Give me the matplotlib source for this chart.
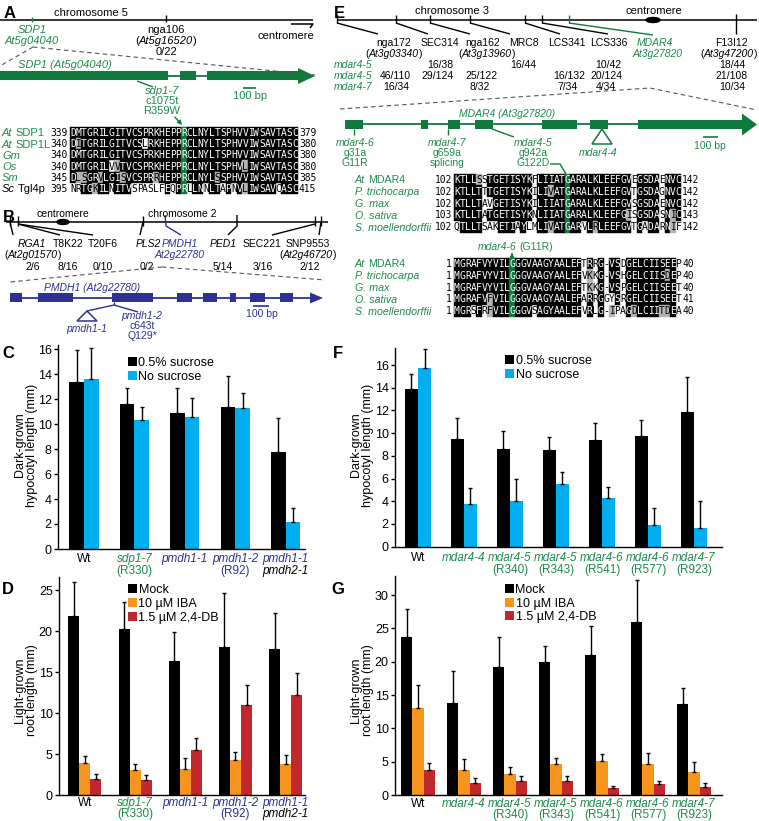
import matplotlib
matplotlib.use('Agg')
import matplotlib.pyplot as plt
import numpy as np
from collections import Counter
from matplotlib.patches import Rectangle, Polygon, Ellipse
from matplotlib.transforms import ScaledTranslation

plt.rcParams['font.family'] = ['Liberation Sans', 'DejaVu Sans']

# ---------------- data ----------------
# Panel C: dark-grown hypocotyl length (mm)
c_line1 = ['Wt', 'sdp1-7', 'pmdh1-1', 'pmdh1-2', 'pmdh1-1']
c_line2 = ['', '(R330)', '', '(R92)', 'pmdh2-1']
c_suc = [13.35, 11.6, 10.9, 11.4, 7.8]
c_suc_err = [2.55, 1.25, 2.0, 2.45, 2.7]
c_nosuc = [13.6, 10.35, 10.55, 11.3, 2.2]
c_nosuc_err = [2.45, 1.05, 1.5, 1.15, 1.05]

# Panel D: light-grown root length (mm)
d_mock = [21.9, 20.3, 16.4, 18.0, 17.8]
d_mock_err = [4.1, 3.3, 3.5, 6.7, 4.4]
d_iba = [3.95, 3.0, 3.2, 4.3, 3.8]
d_iba_err = [0.75, 0.75, 1.3, 1.0, 1.05]
d_db = [1.95, 1.85, 5.5, 10.95, 12.25]
d_db_err = [0.6, 0.65, 1.5, 2.45, 2.6]

# Panel F
f_line1 = ['Wt', 'mdar4-4', 'mdar4-5', 'mdar4-5', 'mdar4-6', 'mdar4-6', 'mdar4-7']
f_line2 = ['', '', '(R340)', '(R343)', '(R541)', '(R577)', '(R923)']
f_suc = [13.9, 9.45, 8.6, 8.5, 9.4, 9.75, 11.85]
f_suc_err = [1.3, 1.85, 1.6, 1.15, 1.5, 1.4, 3.1]
f_nosuc = [15.7, 3.75, 4.05, 5.5, 4.25, 1.9, 1.65]
f_nosuc_err = [1.7, 1.4, 1.95, 1.05, 1.0, 1.5, 2.35]

# Panel G
g_mock = [23.75, 13.75, 19.25, 20.0, 20.95, 25.9, 13.6]
g_mock_err = [4.15, 4.9, 4.5, 2.4, 4.4, 6.35, 2.4]
g_iba = [13.1, 3.75, 3.15, 4.6, 5.15, 4.65, 3.5]
g_iba_err = [3.4, 1.6, 1.1, 1.0, 1.0, 1.6, 1.4]
g_db = [3.75, 1.75, 2.05, 2.15, 1.0, 1.6, 1.25]
g_db_err = [1.0, 0.75, 0.85, 0.75, 0.35, 0.55, 0.5]

# alignments
a_names = [('At', ' SDP1'), ('At', ' SDP1L'), ('Gm', ''), ('Os', ''), ('Sm', ''), ('Sc', ' Tgl4p')]
a_start = [339, 340, 340, 340, 345, 395]
a_end = [379, 380, 380, 380, 385, 415]
a_seqs = ['DMTGRILGITVCSPRKHEPPRCLNYLTSPHVVIWSAVTASC',
          'DITGRILGITVCSLRKHEPPRCLNYLTSPHVVIWSAVTASC',
          'DMTGRILGITVCSPRKHEPPRCLNYLTSPHVVIWSAVTASC',
          'DMTGRILVVTVCSPRKHEPPRCLNYLTSPHVLIWSAVTASC',
          'DLSGRVLGISVCSPRRHEPPRCLNYLSSPHVVIWSAVTASC',
          'NRTGKILNITVSPASLFEQPRLLNNLTAPNVLIWSAVCASC']
e_names = ['At MDAR4', 'P. trichocarpa', 'G. max', 'O. sativa', 'S. moellendorffii']
e1_start = [102, 102, 102, 103, 102]
e1_end = [142, 142, 142, 143, 142]
e1_seqs = ['KTLLSSTGETISYKFLIIATGARALKLEEFGVEGSDAENVC',
           'KTLLTTTGETISYKILIVATGARALKLEEFGVTGSDAGNVC',
           'KTLLTAVGETISYKILIIATGARALKLEEFGVSGSDAENVC',
           'KTLLTATGETISYKNLIIATGARALKLEEFGISGSDASNIC',
           'QTLLTSAKETIAYLMLIVATGARVLRLEEFGVTGADARNIF']
e2_start = [1, 1, 1, 1, 1]
e2_end = [40, 40, 40, 41, 40]
e2_seqs = ['MGRAFVYVILGGGVAAGYAALEFTRRG-VSDGELCIISEEP',
           'MGRAFVYVILGGGVAAGYAALEFVKKG-VSHGELCIISDEP',
           'MGRAFVYVILGGGVAAGYAALEFTKKG-VSPGELCIISEET',
           'MGRAFVFVILGGGVAAGYAALEFARRGGYSRGELCIISEET',
           'MGRSFRFVILGGGVSAGYAALEFVRLG-IPAGDLCIITDEA']

# ---------------- styling ----------------
W, H = 759, 821
fig = plt.figure(figsize=(W / 100, H / 100), dpi=100)
K = '#000000'
GREEN = '#1f8a4c'
GENE_G = '#107a3d'
NAVY = '#2e3192'
BLUE = '#00aeef'
ORANGE = '#f7941d'
RED = '#c1272d'
GRAY = '#555555'
XFS = 8.5


def add_ax(l, r, t, b):
    return fig.add_axes([l / W, 1 - b / H, (r - l) / W, (b - t) / H])


def style_ax(ax, xlim, ylim, yticks):
    ax.set_xlim(*xlim)
    ax.set_ylim(*ylim)
    ax.spines[['top', 'right']].set_visible(False)
    for s in ['left', 'bottom']:
        ax.spines[s].set_linewidth(1.0)
    ax.set_yticks(yticks)
    ax.tick_params(axis='y', direction='out', length=3, width=1, labelsize=9, pad=1.5)
    ax.set_xticks([])
    ax.patch.set_visible(False)


def draw_bars(ax, series, errs, colors, width):
    n = len(series)
    x = np.arange(len(series[0]))
    offs = (np.arange(n) - (n - 1) / 2) * width
    for s, e, c, o in zip(series, errs, colors, offs):
        ax.bar(x + o, s, width, color=c, linewidth=0)
        ax.errorbar(x + o, s, yerr=[np.zeros(len(e)), e], fmt='none', ecolor='k',
                    elinewidth=1, capsize=1.5, capthick=1)


def xlabels(ax, line1, line2, styles1, styles2, dy1, dy2, fs=XFS):
    for i, (s1, s2) in enumerate(zip(line1, line2)):
        for s, (c, st), dy in ((s1, styles1[i], dy1), (s2, styles2[i], dy2)):
            if not s:
                continue
            tr = ax.get_xaxis_transform() + ScaledTranslation(0, -(dy + 0.358 * fs * 100 / 72) / 100,
                                                              fig.dpi_scale_trans)
            ax.text(i, 0, s, transform=tr, ha='center', va='baseline', fontsize=fs,
                    color=c, style=st, clip_on=False)


# ---------------- bar panels ----------------
c_st1 = [(K, 'normal'), (GREEN, 'italic'), (NAVY, 'italic'), (NAVY, 'italic'), (NAVY, 'italic')]
c_st2 = [(K, 'normal'), (GREEN, 'normal'), (K, 'normal'), (NAVY, 'normal'), (K, 'italic')]

axC = add_ax(58, 305, 345, 549)
style_ax(axC, (-0.516, 4.385), (0, 16.32), range(0, 17, 2))
draw_bars(axC, [c_suc, c_nosuc], [c_suc_err, c_nosuc_err], [K, BLUE], 0.29)
xlabels(axC, c_line1, c_line2, c_st1, c_st2, 9, 21)

axD = add_ax(59, 305, 577, 795)
style_ax(axD, (-0.516, 4.385), (0, 26.6), range(0, 26, 5))
draw_bars(axD, [d_mock, d_iba, d_db], [d_mock_err, d_iba_err, d_db_err], [K, ORANGE, RED], 0.22)
xlabels(axD, c_line1, c_line2, c_st1, c_st2, 7, 18)

f_st1 = [(K, 'normal')] + [(GREEN, 'italic')] * 6
f_st2 = [(K, 'normal')] + [(GREEN, 'normal')] * 6
axF = add_ax(395, 722, 348, 546.6)
style_ax(axF, (-0.5, 6.61), (0, 17.5), range(0, 17, 2))
draw_bars(axF, [f_suc, f_nosuc], [f_suc_err, f_nosuc_err], [K, BLUE], 0.283)
xlabels(axF, f_line1, f_line2, f_st1, f_st2, 10, 22)

axG = add_ax(395, 722, 575.7, 795)
style_ax(axG, (-0.5, 6.61), (0, 32.9), range(0, 31, 5))
draw_bars(axG, [g_mock, g_iba, g_db], [g_mock_err, g_iba_err, g_db_err], [K, ORANGE, RED], 0.245)
xlabels(axG, f_line1, f_line2, f_st1, f_st2, 8, 19)

# ---------------- overlay (pixel coordinates) ----------------
ov = fig.add_axes([0, 0, 1, 1])
ov.set_xlim(0, W)
ov.set_ylim(H, 0)
ov.axis('off')
ov.patch.set_visible(False)
R = fig.canvas.get_renderer()


def T(x, y, s, fs=8, color=K, style='normal', ha='center', weight='normal', family=None, rot=0):
    kw = {}
    if family:
        kw['family'] = family
    return ov.text(x, y + 0.358 * fs * 100 / 72, s, fontsize=fs, color=color, style=style,
                   ha=ha, va='baseline', fontweight=weight, rotation=rot, **kw)


def MT(x, y, segs, fs=8, ha='center'):
    sp = 0.278 * fs * 100 / 72
    items, total = [], 0.0
    for s, c, st in segs:
        if not s:
            continue
        gap = 0.0
        if s.startswith(' '):
            gap = sp
            s = s.lstrip()
        t = ov.text(0, y + 0.358 * fs * 100 / 72, s, fontsize=fs, color=c, style=st,
                    ha='left', va='baseline')
        w = t.get_window_extent(R).width
        total += gap
        items.append((t, total))
        total += w
    if ha == 'center':
        x0 = x - total / 2
    elif ha == 'right':
        x0 = x - total
    else:
        x0 = x
    for t, off in items:
        t.set_x(x0 + off)


def L(xs, ys, color=K, lw=1.0, **kw):
    ov.plot(xs, ys, color=color, lw=lw, solid_capstyle='butt', **kw)


def gene(y, exons, x0, tip, head_x, head_h, color, hh=4.5, lw=1.3):
    L([x0, head_x], [y, y], color=color, lw=lw)
    for a, b in exons:
        ov.add_patch(Rectangle((a, y - hh), b - a, 2 * hh, color=color, lw=0))
    ov.add_patch(Polygon([(head_x, y - head_h), (tip, y), (head_x, y + head_h)], closed=True,
                         color=color, lw=0))


SIM = ['ILVM', 'KR', 'ST', 'DE', 'NQ', 'FYW']
SFS = 6.9


def alignment(seqs, x_seq, pitch, y0, dy, gcol, fs=SFS):
    n = len(seqs)
    Lm = max(len(s) for s in seqs)
    for j in range(Lm):
        col = [s[j] if j < len(s) else ' ' for s in seqs]
        letters = [c for c in col if c not in '- ']
        cons, cnt = Counter(letters).most_common(1)[0]
        for i, c in enumerate(col):
            if c == ' ':
                continue
            if j == gcol:
                bg, fg = GENE_G, 'white'
            elif c == cons and cnt >= n / 2:
                bg, fg = 'black', 'white'
            elif cnt >= n / 2 and any(c in g and cons in g for g in SIM):
                bg, fg = '#b4b4b4', 'black'
            else:
                bg, fg = 'white', 'black'
            yc = y0 + i * dy
            if bg != 'white':
                ov.add_patch(Rectangle((x_seq + j * pitch, yc - dy / 2), pitch, dy,
                                       facecolor=bg, edgecolor=bg, lw=0.3))
            ov.text(x_seq + (j + 0.5) * pitch, yc + 0.358 * fs * 100 / 72, c, fontsize=fs,
                    family='DejaVu Sans Mono', color=fg, ha='center', va='baseline')


def nums(x_right, x_left, y0, dy, starts, ends, fs=SFS):
    for i, (a, b) in enumerate(zip(starts, ends)):
        yc = y0 + i * dy + 0.358 * fs * 100 / 72
        ov.text(x_right, yc, str(a), fontsize=fs, family='DejaVu Sans Mono', ha='right', va='baseline')
        ov.text(x_left, yc, str(b), fontsize=fs, family='DejaVu Sans Mono', ha='left', va='baseline')


# ----- Panel A -----
T(10, 12, 'A', fs=12, weight='bold')
T(91, 12, 'chromosome 5')
L([0, 313], [20, 20], lw=1.1)
L([32, 32], [17, 22], color=GREEN)
L([166, 166], [15, 22])
T(32, 29, 'SDP1', color=GREEN, style='italic')
T(32, 40, 'At5g04040', color=GREEN, style='italic')
T(166, 29, 'nga106')
MT(166, 40, [('(', K, 'normal'), ('At5g16520', K, 'italic'), (')', K, 'normal')])
T(166, 51, '0/22')
L([291, 313, 310], [24, 24, 28], lw=1.1)
T(286, 35, 'centromere')
L([33, 0], [47, 66], color=GRAY, lw=0.8, ls=(0, (4, 3)))
L([33, 315], [47, 75], color=GRAY, lw=0.8, ls=(0, (4, 3)))
T(65, 64, 'SDP1 (At5g04040)', color=GREEN, style='italic')
gene(76, [(0, 168), (180, 196), (207, 298)], 0, 315, 298, 8, GENE_G)
L([137, 153], [81, 87], color=GENE_G)
T(162, 90, 'sdp1-7', color=GREEN, style='italic')
T(162, 100, 'c1075t', color=GREEN)
T(162, 110, 'R359W', color=GREEN)
ov.annotate('', xy=(184, 127), xytext=(173, 115),
            arrowprops=dict(arrowstyle='-|>', color=GENE_G, lw=1.0, mutation_scale=6))
L([243, 256], [88, 88], color=GENE_G, lw=1.2)
T(250, 95, '100 bp', color=GREEN)

a_y0, a_dy = 132.5, 11.2
for i, (n1, n2) in enumerate(a_names):
    col = GREEN if i < 5 else K
    MT(2, a_y0 + i * a_dy, [(n1, col, 'italic'), (n2, col, 'normal')], ha='left')
alignment(a_seqs, 70, 5.56, a_y0, a_dy, 20)
nums(68, 70 + 41 * 5.56 + 1, a_y0, a_dy, a_start, a_end)

# ----- Panel B -----
BF = 7.5
T(9, 216, 'B', fs=12, weight='bold')
L([6, 328], [222, 222], lw=1.1)
ov.add_patch(Ellipse((63, 222), 12, 5, color=K))
T(63, 213, 'centromere', fs=BF)
T(182, 213, 'chromosome 2', fs=BF)
for xt in [10, 18, 143, 315, 321]:
    L([xt, xt], [216, 226])
L([10, 13], [222, 235])
L([18, 60], [224, 235])
L([18, 93], [224, 235])
L([143, 140], [222, 235])
L([165, 166, 181], [215, 226, 235], color=NAVY)
L([237, 237, 228], [215, 226, 235])
L([315, 272], [224, 235])
L([321, 319], [222, 235])
T(32, 243, 'RGA1', style='italic', fs=BF)
T(68, 243, 'T8K22', fs=BF)
T(103, 243, 'T20F6', fs=BF)
T(148, 243, 'PLS2', style='italic', fs=BF)
T(180, 243, 'PMDH1', color=NAVY, style='italic', fs=BF)
T(223, 243, 'PED1', style='italic', fs=BF)
T(262, 243, 'SEC221', fs=BF)
T(308, 243, 'SNP9553', fs=BF)
MT(33, 254, [('(', K, 'normal'), ('At2g01570', K, 'italic'), (')', K, 'normal')], fs=BF)
T(180, 254, 'At2g22780', color=NAVY, style='italic', fs=BF)
MT(308, 254, [('(', K, 'normal'), ('At2g46720', K, 'italic'), (')', K, 'normal')], fs=BF)
for xx, s in [(33, '2/6'), (68, '8/16'), (103, '0/10'), (147, '0/2'), (223, '5/14'),
              (263, '3/16'), (310, '2/12')]:
    T(xx, 266, s, fs=BF)
L([162, 10], [267, 282], color=GRAY, lw=0.8, ls=(0, (4, 3)))
L([162, 325], [267, 280], color=GRAY, lw=0.8, ls=(0, (4, 3)))
T(92, 287, 'PMDH1 (At2g22780)', color=NAVY, style='italic', fs=BF)
gene(298, [(10, 22), (38, 73), (112, 153), (177, 192), (203, 217), (230, 236), (250, 265), (280, 293)],
     10, 323, 310, 5.5, NAVY, hh=4.5, lw=1.3)
L([114, 114], [302, 305], color=NAVY)
L([114, 87], [305, 311], color=NAVY)
L([114, 138], [305, 312], color=NAVY)
ov.add_patch(Polygon([(87, 311), (77, 321), (97, 321)], closed=True, fill=False, edgecolor=NAVY, lw=1.1))
T(87, 328, 'pmdh1-1', color=NAVY, style='italic', fs=BF)
T(142, 315, 'pmdh1-2', color=NAVY, style='italic', fs=BF)
T(142, 325, 'c643t', color=NAVY, fs=BF)
T(142, 335, 'Q129*', color=NAVY, fs=BF)
L([253, 269], [306, 306], color=NAVY, lw=1.2)
T(262, 313, '100 bp', color=NAVY, fs=BF)

# ----- Panel E -----
EF = 7.5
T(339, 12, 'E', fs=12, weight='bold')
L([337, 757], [20, 20], lw=1.1)
T(452, 10, 'chromosome 3')
T(654, 10, 'centromere')
ov.add_patch(Ellipse((653, 20), 14, 5, color=K))
for xt, xe in [(337, 378), (396, 428), (430, 470), (470, 510), (525, 560), (542, 608)]:
    L([xt, xt], [15, 23])
    L([xt, xe], [23, 34])
L([569, 569], [15, 23], color=GENE_G)
L([569, 653], [23, 35], color=GENE_G)
L([736, 736], [14, 34])
for xx, s in [(394, 'nga172'), (440, 'SEC314'), (483, 'nga162'), (524, 'MRC8'), (567, 'LCS341'),
              (609, 'LCS336'), (731, 'F13I12')]:
    T(xx, 42, s, fs=EF)
T(655, 42, 'MDAR4', color=GREEN, style='italic', fs=EF)
MT(394, 53, [('(', K, 'normal'), ('At3g03340', K, 'italic'), (')', K, 'normal')], fs=EF)
MT(487, 53, [('(', K, 'normal'), ('At3g13960', K, 'italic'), (')', K, 'normal')], fs=EF)
T(658, 53, 'At3g27820', color=GREEN, style='italic', fs=EF)
MT(757, 53, [('(', K, 'normal'), ('At3g47200', K, 'italic'), (')', K, 'normal')], fs=EF, ha='right')
for yy, s in [(64, 'mdar4-5'), (75, 'mdar4-5'), (86, 'mdar4-7')]:
    T(334, yy, s, color=GREEN, style='italic', ha='left', fs=EF)
for xx, s in [(440, '16/38'), (523, '16/44'), (608, '10/42'), (732, '18/44')]:
    T(xx, 64, s, fs=EF)
for xx, s in [(395, '46/110'), (438, '29/124'), (481, '25/122'), (569, '16/132'), (606, '20/124'),
              (732, '21/108')]:
    T(xx, 75, s, fs=EF)
for xx, s in [(396, '16/34'), (480, '8/32'), (567, '7/34'), (606, '4/34'), (732, '10/34')]:
    T(xx, 86, s, fs=EF)
L([340, 650, 757], [109, 88, 110], color=GRAY, lw=0.8, ls=(0, (4, 3)))
T(507, 113, 'MDAR4 (At3g27820)', color=GREEN, style='italic', fs=EF)
gene(124.5, [(345, 363), (421, 428), (448, 460), (475, 493), (542, 577), (590, 608), (638, 742)],
     345, 757, 742, 11, GENE_G, hh=4.5)
L([354, 354], [129, 135], color=GENE_G)
T(355, 142, 'mdar4-6', color=GREEN, style='italic', fs=EF)
T(355, 152, 'g31a', color=GREEN, fs=EF)
T(355, 162, 'G11R', color=GREEN, fs=EF)
L([448, 448], [129, 135], color=GENE_G)
T(447, 142, 'mdar4-7', color=GREEN, style='italic', fs=EF)
T(447, 152, 'g659a', color=GREEN, fs=EF)
T(447, 162, 'splicing', color=GREEN, fs=EF)
L([492, 514], [129, 137], color=GENE_G)
T(533, 142, 'mdar4-5', color=GREEN, style='italic', fs=EF)
T(533, 152, 'g942a', color=GREEN, fs=EF)
T(533, 162, 'G122D', color=GREEN, fs=EF)
L([550, 560, 566], [164, 164, 174], color=GENE_G)
ov.add_patch(Polygon([(602, 129), (592, 144), (612, 144)], closed=True, fill=False, edgecolor=GENE_G, lw=1.1))
T(598, 152, 'mdar4-4', color=GREEN, style='italic', fs=EF)
L([703, 718], [137, 137], color=GENE_G, lw=1.2)
T(710, 145, '100 bp', color=GREEN, fs=EF)

e1_y0, e_dy = 179.5, 11.8
e2_y0 = 263.5
for y0 in (e1_y0, e2_y0):
    for i, nm in enumerate(e_names):
        if nm.startswith('At '):
            MT(355, y0 + i * e_dy, [('At', GREEN, 'italic'), (' MDAR4', GREEN, 'normal')], ha='left', fs=7.7)
        else:
            T(355, y0 + i * e_dy, nm, color=GREEN, style='italic', ha='left', fs=7.7)
alignment(e1_seqs, 454, 5.54, e1_y0, e_dy, 20)
nums(452, 454 + 41 * 5.54 + 1, e1_y0, e_dy, e1_start, e1_end)
alignment(e2_seqs, 454, 5.54, e2_y0, e_dy, 10)
nums(452, 454 + 41 * 5.54 + 1, e2_y0, e_dy, e2_start, e2_end)
MT(515, 246, [('mdar4-6', GREEN, 'italic'), (' (G11R)', GREEN, 'normal')], fs=EF)
ov.annotate('', xy=(512, 250), xytext=(512, 258),
            arrowprops=dict(arrowstyle='-|>', color=GENE_G, lw=1.0, mutation_scale=6))

# ----- panel letters, y labels, legends for bar panels -----
T(8, 352, 'C', fs=12, weight='bold')
T(8, 588, 'D', fs=12, weight='bold')
T(338, 352, 'F', fs=12, weight='bold')
T(338, 588, 'G', fs=12, weight='bold')
for xx, yy, s in [(26, 445, 'Dark-grown\nhypocotyl length (mm)'), (26, 690, 'Light-grown\nroot length (mm)'),
                  (362, 445, 'Dark-grown\nhypocotyl length (mm)'), (362, 690, 'Light-grown\nroot length (mm)')]:
    ov.text(xx, yy, s, rotation=90, ha='center', va='center', multialignment='center',
            fontsize=9, linespacing=1.0)


def legend(x, y0, dy, items):
    for i, (c, s) in enumerate(items):
        yc = y0 + i * dy
        ov.add_patch(Rectangle((x, yc - 4.5), 9, 9, color=c, lw=0))
        T(x + 10.5, yc, s, fs=9, ha='left')


legend(128, 362, 13.5, [(K, '0.5% sucrose'), (BLUE, 'No sucrose')])
legend(128, 589, 14, [(K, 'Mock'), (ORANGE, '10 µM IBA'), (RED, '1.5 µM 2,4-DB')])
legend(505, 360, 14, [(K, '0.5% sucrose'), (BLUE, 'No sucrose')])
legend(505, 589, 13.5, [(K, 'Mock'), (ORANGE, '10 µM IBA'), (RED, '1.5 µM 2,4-DB')])

fig.savefig('out.png', dpi=100)
